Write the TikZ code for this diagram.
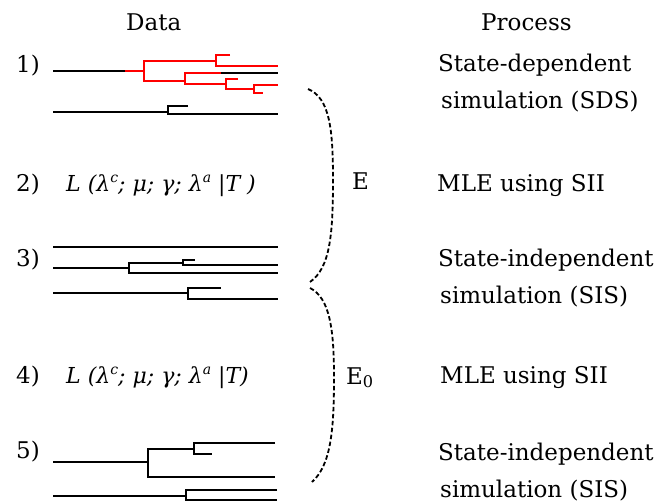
\documentclass[tikz,border=0pt]{standalone}
\usepackage{fontspec}
\setmainfont{DejaVu Serif}
\newcommand{\supsc}[1]{\raisebox{0.38em}{\fontsize{14}{14}\selectfont #1}}
\begin{document}
\begin{tikzpicture}[x=1pt,y=-1pt,
  lbl/.style={anchor=base west,inner sep=0pt,font=\fontsize{23}{28}\selectfont},
  flbl/.style={anchor=base west,inner sep=0pt,font=\fontsize{22}{26}\selectfont},
  br/.style={line width=2pt,line cap=butt},
  redbr/.style={br,red},
  brace/.style={line width=1.8pt,dash pattern=on 4.5pt off 2.5pt}]
\useasboundingbox (0,0) rectangle (659,503);
% headers
\node[lbl] (data) at (126,31) {Data};
\node[lbl] (proc) at (481,31) {Process};
% row numbers
\node[lbl] (n1) at (16,73) {1)};
\node[lbl] (n2) at (16,191) {2)};
\node[lbl] (n3) at (16,266) {3)};
\node[lbl] (n4) at (16,383) {4)};
\node[lbl] (n5) at (16,458) {5)};
% formulas
\node[flbl] (f2) at (66,191) {\itshape L (λ\supsc{c}; μ; γ; λ\supsc{a} |T )};
\node[flbl] (f4) at (66,383) {\itshape L (λ\supsc{c}; μ; γ; λ\supsc{a} |T)};
% process texts
\node[lbl] (p1a) at (438,72) {State-dependent};
\node[lbl] (p1b) at (441,108) {simulation (SDS)};
\node[lbl] (p2) at (437,191) {MLE using SII};
\node[lbl] (p3a) at (438,266) {State-independent};
\node[lbl] (p3b) at (440,303) {simulation (SIS)};
\node[lbl] (p4) at (440,383) {MLE using SII};
\node[lbl] (p5a) at (438,460) {State-independent};
\node[lbl] (p5b) at (440,497) {simulation (SIS)};
% E labels
\node[lbl] (e) at (352,189) {E};
\node[lbl] (e0) at (346,384) {E\textsubscript{0}};
% braces
\draw[brace] (308,89) .. controls (330,98) and (333,130) .. (333,180)
  .. controls (333,235) and (330,268) .. (310,282);
\draw[brace] (310,288) .. controls (330,298) and (334,330) .. (334,377)
  .. controls (334,430) and (331,465) .. (312,482);
% tree 1 (SDS)
\draw[br] (53,70.7) -- (125,70.7);
\draw[redbr] (125,70.7) -- (144,70.7);
\draw[redbr] (216,60.7) -| (144,80.7) -- (185,80.7);
\draw[redbr] (230,55) -| (216,65.7) -- (278,65.7);
\draw[redbr] (221,73.3) -| (185,84) -- (226,84);
\draw[br] (221,73.3) -- (278,73.3);
\draw[redbr] (238,79.3) -| (226,89.3) -- (254,89.3);
\draw[redbr] (278,85) -| (254,93.3) -- (263,93.3);
\draw[br] (53,111.7) -- (168,111.7);
\draw[br] (188,106) -| (168,114) -- (278,114);
% tree 3
\draw[br] (53,247.3) -- (278,247.3);
\draw[br] (53,268.3) -- (129.3,268.3);
\draw[br] (182.7,262.7) -| (129.3,273.3) -- (278,273.3);
\draw[br] (195,260) -| (182.7,265.3) -- (278,265.3);
\draw[br] (53,293.3) -- (188.3,293.3);
\draw[br] (220.7,288.3) -| (188.3,299) -- (278,299);
% tree 5
\draw[br] (53,462.3) -- (147.7,462.3);
\draw[br] (194.3,449.3) -| (147.7,476.7) -- (275,476.7);
\draw[br] (275,443.3) -| (194.3,454.3) -- (212,454.3);
\draw[br] (53,495.7) -- (185.7,495.7);
\draw[br] (277,490) -| (185.7,500.3) -- (277,500.3);
\end{tikzpicture}
\end{document}
